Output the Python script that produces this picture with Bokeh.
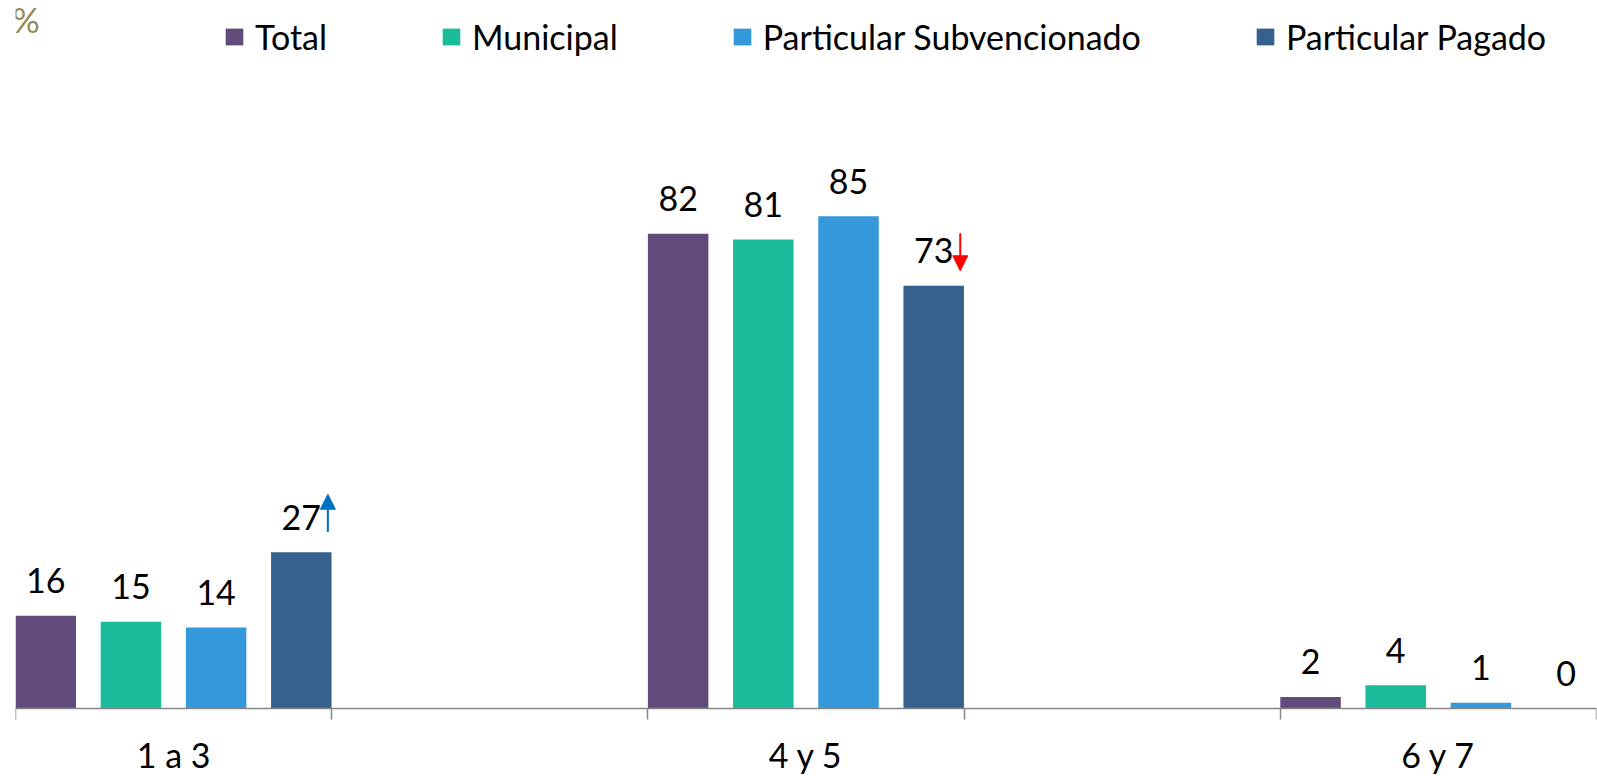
from bokeh.plotting import figure
from bokeh.models import Range1d, FixedTicker, Legend, LegendItem, Arrow, NormalHead, Label, ColumnDataSource
from bokeh.core.properties import value
from bokeh.embed import file_html
from bokeh.resources import INLINE

categories = ["1 a 3", "4 y 5", "6 y 7"]
series = ["Total", "Municipal", "Particular Subvencionado", "Particular Pagado"]
total = [16, 82, 2]
municipal = [15, 81, 4]
subvencionado = [14, 85, 1]
pagado = [27, 73, 0]
# significance arrows: +1 up, -1 down, 0 none (per category, per series)
arrows_total = [0, 0, 0]
arrows_municipal = [0, 0, 0]
arrows_subvencionado = [0, 0, 0]
arrows_pagado = [1, -1, 0]

values = [total, municipal, subvencionado, pagado]
arrow_dirs = [arrows_total, arrows_municipal, arrows_subvencionado, arrows_pagado]
colors = ["#604B7B", "#1ABC9C", "#3598DB", "#36618F"]

FONT = "Lato"
PX_PER_UNIT = 5.79
FRAME_H = 776
AXIS_Y = 708  # px from top of frame to zero line

y_end = AXIS_Y / PX_PER_UNIT
y_start = -(FRAME_H - AXIS_Y) / PX_PER_UNIT

n = len(categories)
x_end = 2 * n - 1

p = figure(width=1597, height=776, output_backend="svg", toolbar_location=None,
           x_range=Range1d(0, x_end), y_range=Range1d(y_start, y_end),
           min_border_left=15, min_border_right=1, min_border_top=0, min_border_bottom=0)
p.outline_line_color = None
p.xgrid.visible = False
p.ygrid.visible = False
p.yaxis.visible = False
p.background_fill_color = "white"
p.border_fill_color = "white"

bar_w = 0.1913
step = 0.2694
legend_items = []
for j, (name, vals, col) in enumerate(zip(series, values, colors)):
    xs = [2 * i + bar_w / 2 + j * step for i in range(n)]
    src = ColumnDataSource(dict(x=xs, top=vals, lab=[str(v) for v in vals]))
    r = p.vbar(x="x", top="top", width=bar_w, source=src, fill_color=col, line_color=None)
    legend_items.append(LegendItem(label=name, renderers=[r]))
    p.text(x="x", y="top", text="lab", source=src, text_align="center", text_baseline="alphabetic",
           y_offset=-35, text_font=value(FONT), text_font_size="34px", text_color="black")
    for i in range(n):
        d = arrow_dirs[j][i]
        if d != 0:
            ax = xs[i] + 0.084
            if d > 0:
                ys, ye, c = vals[i] + 3.5, vals[i] + 10.0, "#0070C0"
            else:
                ys, ye, c = vals[i] + 9.1, vals[i] + 2.6, "#FF0000"
            p.add_layout(Arrow(x_start=ax, y_start=ys, x_end=ax, y_end=ye, line_color=c, line_width=2,
                               end=NormalHead(size=15, fill_color=c, line_color=c, line_width=1)))

ax_ = p.xaxis[0]
ax_.fixed_location = 0
ax_.ticker = FixedTicker(ticks=[2 * i + 0.5 for i in range(n)], minor_ticks=list(range(x_end + 1)))
ax_.major_label_overrides = {2 * i + 0.5: c for i, c in enumerate(categories)}
ax_.axis_line_color = "#868686"
ax_.axis_line_width = 1.5
ax_.major_tick_out = 0
ax_.major_tick_in = 0
ax_.minor_tick_out = 11
ax_.minor_tick_in = 0
ax_.minor_tick_line_color = "#868686"
ax_.minor_tick_line_width = 1.5
ax_.major_label_text_font = FONT
ax_.major_label_text_font_size = "34px"
ax_.major_label_text_color = "black"
ax_.major_label_standoff = 14

legend = Legend(items=legend_items, orientation="horizontal", location=(208, FRAME_H - 57),
                spacing=113, glyph_width=22, glyph_height=21, label_standoff=10,
                label_text_font=FONT, label_text_font_size="34px", label_text_color="black",
                padding=0, margin=0, border_line_color=None, background_fill_alpha=0,
                label_height=20)
p.add_layout(legend)

p.add_layout(Label(x=0, y=y_end - 19 / PX_PER_UNIT, x_offset=-3, text="%", text_font=FONT,
                   text_font_size="34px", text_color="#948A54", text_baseline="alphabetic"))

open("out.html", "w").write(file_html(p, INLINE))
